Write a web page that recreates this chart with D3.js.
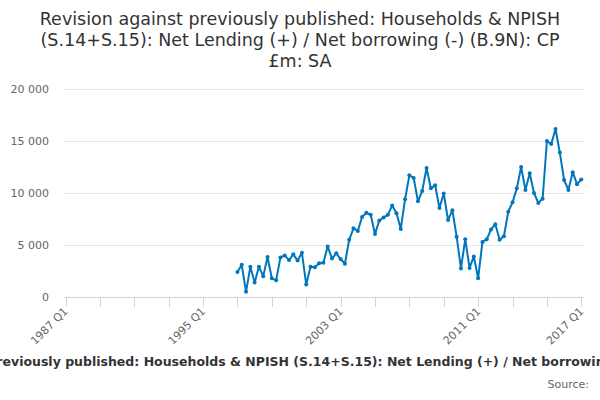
<!DOCTYPE html>
<html><head><meta charset="utf-8">
<script src="https://cdn.jsdelivr.net/npm/d3@7"></script>
<style>body{margin:0;background:#fff;}svg{display:block;font-family:"DejaVu Sans",sans-serif;}</style>
</head><body><svg id="c" width="600" height="400"></svg>
<script>
const titleLines = ["Revision against previously published: Households & NPISH", "(S.14+S.15): Net Lending (+) / Net borrowing (-) (B.9N): CP", "£m: SA"];
const axisTitle = "Revision against previously published: Households & NPISH (S.14+S.15): Net Lending (+) / Net borrowing (-) (B.9N): CP £m: SA";
const startYear = 1987;
const dataStart = "1997 Q1";
const values = [
  2400, 3100, 500, 2900,
  1400, 2900, 2000, 3850,
  1800, 1600, 3800, 4000,
  3550, 4100, 3500, 4250,
  1200, 2900, 2850, 3250,
  3300, 4850, 3700, 4200,
  3650, 3200, 5500, 6600,
  6350, 7700, 8100, 7900,
  6050, 7350, 7650, 7900,
  8800, 8050, 6550, 9400,
  11700, 11450, 9200, 10200,
  12400, 10450, 10750, 8550,
  9950, 7400, 8350, 5800,
  2750, 5550, 2800, 3900,
  1800, 5300, 5550, 6500,
  7000, 5500, 5850, 8200,
  9100, 10450, 12500, 10300,
  11900, 10000, 9050, 9450,
  15000, 14700, 16150, 13900,
  11250, 10300, 12000, 10850,
  11300
];
const yTicks = [0, 5000, 10000, 15000, 20000];
const xLabels = ["1987 Q1", "1995 Q1", "2003 Q1", "2011 Q1", "2017 Q1"];

// categories: 1987 Q1 .. 2017 Q1
const categories = [];
for (let y = startYear; y <= 2017; y++) for (let q = 1; q <= 4; q++) { categories.push(y + " Q" + q); if (y === 2017) break; }
const offset = categories.indexOf(dataStart);
const series = values.map((v, i) => ({cat: categories[offset + i], idx: offset + i, v}));
const tickCats = categories.filter((c, i) => c.endsWith("Q1") && (+c.slice(0,4) - startYear) % 2 === 0);

const svg = d3.select("#c");
const x = d3.scaleLinear().domain([0, categories.length - 1]).range([65.5, 581.3]);
const y = d3.scaleLinear().domain([0, 20000]).range([297, 89]);
const fmt = d => d3.format(",")(d).replace(/,/g, " ");

// title
svg.append("text").attr("x", 300).attr("y", 25).attr("text-anchor", "middle")
  .attr("fill", "#333").style("font-size", "17.5px")
  .selectAll("tspan").data(titleLines).join("tspan")
  .attr("x", 300).attr("dy", (d, i) => i ? 21 : 0).text(d => d);

// grid + y labels
svg.append("g").selectAll("line").data(yTicks.filter(d => d > 0)).join("line")
  .attr("x1", 64).attr("x2", 584).attr("y1", d => Math.round(y(d)) + 0.5).attr("y2", d => Math.round(y(d)) + 0.5)
  .attr("stroke", "#e6e6e6").attr("stroke-width", 1);
svg.append("g").selectAll("text").data(yTicks).join("text")
  .attr("x", 49).attr("y", d => y(d) + 4).attr("text-anchor", "end")
  .attr("fill", "#666").style("font-size", "11px").text(fmt);

// x axis
const xa = svg.append("g");
xa.append("line").attr("x1", 64).attr("x2", 584).attr("y1", 297.5).attr("y2", 297.5).attr("stroke", "#ccd6eb");
xa.selectAll("line.t").data(tickCats).join("line").attr("class", "t")
  .attr("x1", d => Math.round(x(categories.indexOf(d))) + 0.5).attr("x2", d => Math.round(x(categories.indexOf(d))) + 0.5)
  .attr("y1", 297).attr("y2", 307).attr("stroke", "#ccd6eb");
xa.selectAll("text").data(xLabels).join("text")
  .attr("transform", d => `translate(${x(categories.indexOf(d)) + 3},${312}) rotate(-45)`)
  .attr("text-anchor", "end").attr("fill", "#666").style("font-size", "11px").text(d => d);

// axis title & source
svg.append("text").attr("x", 316).attr("y", 366).attr("text-anchor", "middle")
  .attr("fill", "#333").style("font-size", "12.5px").style("font-weight", "bold").text(axisTitle);
svg.append("text").attr("x", 589).attr("y", 388).attr("text-anchor", "end")
  .attr("fill", "#666").style("font-size", "11px").text("Source:");

// series
const color = "#0076bd";
svg.append("path").datum(series)
  .attr("d", d3.line().x(d => x(d.idx)).y(d => y(d.v)))
  .attr("fill", "none").attr("stroke", color).attr("stroke-width", 2).attr("stroke-linejoin", "round");
svg.append("g").selectAll("circle").data(series).join("circle")
  .attr("cx", d => x(d.idx)).attr("cy", d => y(d.v)).attr("r", 2).attr("fill", color);
</script></body></html>
